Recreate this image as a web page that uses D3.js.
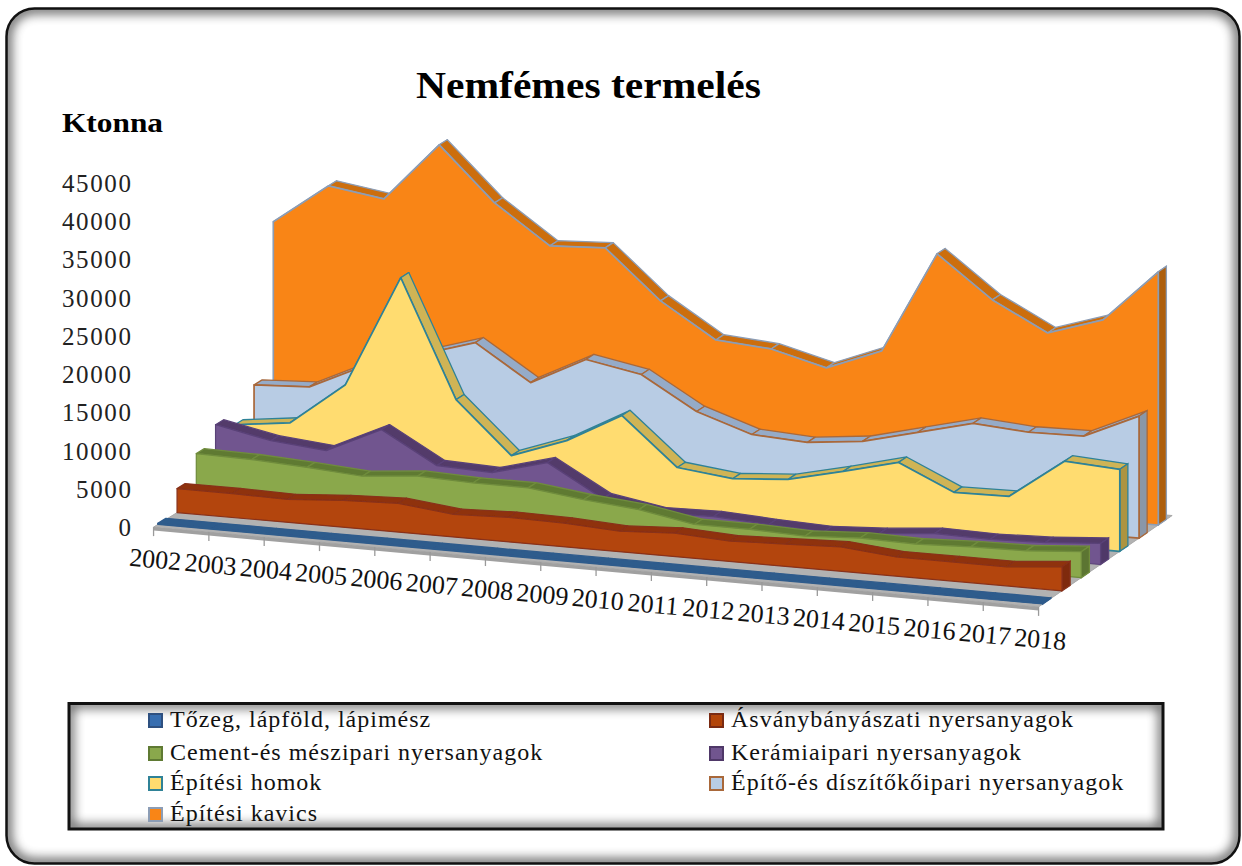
<!DOCTYPE html>
<html><head><meta charset="utf-8">
<style>html,body{margin:0;padding:0;background:#fff}svg{display:block}text{font-family:"Liberation Serif","Times New Roman",serif}</style>
<script src="https://cdn.jsdelivr.net/npm/d3@7"></script>
</head><body><svg id="c" width="1242" height="866"></svg>
<script>
const years = [2002,2003,2004,2005,2006,2007,2008,2009,2010,2011,2012,2013,2014,2015,2016,2017,2018];
const valueTicks = [0,5000,10000,15000,20000,25000,30000,35000,40000,45000];
const tozeg   = [150,150,140,130,130,120,110,110,100,90,90,90,90,90,90,90,90];
const asvany  = [3140,3130,3000,3510,3770,2970,3220,3090,2680,3070,2670,2920,3180,2510,2510,2500,3140];
const cement  = [6150,6010,5610,5080,5730,5460,5450,4530,3860,2550,2540,2270,2660,2510,2770,2880,3400];
const keramia = [8380,6900,6220,9590,5500,5200,7130,3040,1800,1930,1500,1190,1570,2190,2030,2240,2750];
const homok   = [6810,7680,13270,27880,12540,5820,8390,12280,6090,5240,5750,7410,9200,5890,5980,11180,10730];
const epito   = [10470,10810,14170,16210,18390,13760,17380,16020,11780,9370,8930,9670,11450,13230,12660,12750,15970];
const kavics  = [30240,35540,34420,42080,35080,30040,30370,24020,19500,18910,17020,19830,33120,27680,23950,26240,33120];
const names = ["Tőzeg, lápföld, lápimész","Ásványbányászati nyersanyagok","Cement-és mészipari nyersanyagok","Kerámiaipari nyersanyagok","Építési homok","Építő-és díszítőkőipari nyersanyagok","Építési kavics"];
const values = [tozeg,asvany,cement,keramia,homok,epito,kavics];
const fronts = ["#2f5b8c","#b34509","#8aa84c","#71558f","#ffdc6f","#b8cce4","#f98516"];
const tops   = ["#2f5b8c","#8f3208","#5f7a33","#523a6b","#cfb455","#95abc8","#cc6e10"];
const sides  = ["#2a5078","#7f2c0c","#5c7530","#4f3868","#ad9440","#8a97a8","#ad5e10"];
const lines  = ["#2f5b8c","#88301a","#6f8c3c","#5a4278","#2f8297","#a9683a","#8c9db5"];
const swatch = ["#376eb0","#b34509","#8aa84c","#71558f","#ffdc6f","#b8cce4","#f98516"];
const legendEdge = ["#2e5080","#7a2a12","#5f7a33","#4f3868","#2f8297","#a9683a","#8c9db5"];

const svg = d3.select("#c");
const defs = svg.append("defs");
const blur = defs.append("filter").attr("id","b").attr("x","-5%").attr("y","-5%").attr("width","110%").attr("height","110%");
blur.append("feGaussianBlur").attr("stdDeviation",6);
const soft = defs.append("filter").attr("id","s").attr("x","-2%").attr("y","-2%").attr("width","104%").attr("height","104%");
soft.append("feGaussianBlur").attr("stdDeviation",0.45);

function panel(x,y,w,h,r,id,sw,blurW){
  defs.append("clipPath").attr("id",id).append("rect").attr("x",x).attr("y",y).attr("width",w).attr("height",h).attr("rx",r);
  svg.append("rect").attr("x",x).attr("y",y).attr("width",w).attr("height",h).attr("rx",r).attr("fill","#fff");
  svg.append("g").attr("clip-path",`url(#${id})`).append("rect").attr("x",x).attr("y",y).attr("width",w).attr("height",h).attr("rx",r)
    .attr("fill","none").attr("stroke","#000").attr("stroke-width",blurW).attr("opacity",.8).attr("filter","url(#b)");
  svg.append("rect").attr("x",x).attr("y",y).attr("width",w).attr("height",h).attr("rx",r).attr("fill","none").attr("stroke","#111").attr("stroke-width",sw);
}
panel(6.5,8.5,1233,855,28,"cf",2.5,8);

// oblique projection: x along years, s along series depth, v up
const iScale = d3.scaleLinear().domain([0,years.length-1]);
const xAt = d3.scaleLinear().domain([0,6]).range([157.8,273.3]);
const baseL = d3.scaleLinear().domain([0,6]).range([524.5,453]);
const baseR = d3.scaleLinear().domain([0,6]).range([604,525]);
const xSpan = d3.scaleLinear().domain([0,years.length-1]).range([0,885]);
const h = d3.scaleLinear().domain([0,45000]).range([0,344]);
const frac = iScale.copy().range([0,1]);
function P(i,v,s){
  const t = frac(i);
  return [xAt(s)+xSpan(i), baseL(s)*(1-t)+baseR(s)*t - h(v)];
}
const lineGen = d3.line();
const D = 0.42;

// floor
const marks = svg.append("g").attr("filter","url(#s)");
const g = marks.append("g");
const sF=-0.22, sB=6.72, last=years.length-1;
g.append("path").attr("d",lineGen([P(0,0,sF),P(last,0,sF),P(last,0,sB),P(0,0,sB)])+"Z").attr("fill","#b2b2b2").attr("stroke","#a8a8a8");
g.append("path").attr("d",lineGen([P(0,0,sF),P(last,0,sF),[P(last,0,sF)[0],P(last,0,sF)[1]+3.5],[P(0,0,sF)[0],P(0,0,sF)[1]+3.5]])+"Z").attr("fill","#a0a0a0");
years.forEach((y,i)=>{
  const p=P(i,0,sF);
  g.append("line").attr("x1",p[0]).attr("x2",p[0]).attr("y1",p[1]).attr("y2",p[1]+9).attr("stroke","#9a9a9a").attr("stroke-width",1.3);
});

// series, back to front
d3.range(6,-1,-1).forEach(s=>{
  const vals=values[s], gs=marks.append("g");
  for(let i=0;i<last;i++){
    gs.append("path").attr("d",lineGen([P(i,vals[i],s),P(i+1,vals[i+1],s),P(i+1,vals[i+1],s+D),P(i,vals[i],s+D)])+"Z")
      .attr("fill",tops[s]).attr("stroke",lines[s]).attr("stroke-width",1.3).attr("stroke-linejoin","round");
  }
  gs.append("path").attr("d",lineGen([P(last,vals[last],s),P(last,0,s),P(last,0,s+D),P(last,vals[last],s+D)])+"Z")
    .attr("fill",sides[s]).attr("stroke",lines[s]).attr("stroke-width",1.3);
  const front=[P(0,0,s)].concat(vals.map((v,i)=>P(i,v,s))).concat([P(last,0,s)]);
  gs.append("path").attr("d",lineGen(front)+"Z").attr("fill",fronts[s]).attr("stroke",lines[s]).attr("stroke-width",s>=4?1.7:1.2).attr("stroke-linejoin","round");
});

// year labels
years.forEach((y,i)=>{
  const p=P(i,0,sF);
  svg.append("text").attr("transform",`translate(${p[0]+1},${p[1]+41}) rotate(5)`).attr("text-anchor","middle").attr("font-size",26).attr("fill","#111").text(y);
});

// value axis
const yAxis = d3.scaleLinear().domain([0,45000]).range([527.5,183.5]);
const ax = svg.append("g").attr("transform","translate(132.5,0)").call(d3.axisLeft(yAxis).tickValues(valueTicks).tickFormat(d3.format("d")).tickSize(0).tickPadding(0));
ax.select(".domain").remove();
ax.selectAll("text").attr("font-family","Liberation Serif").attr("font-size",25).attr("letter-spacing",1.6).attr("fill","#222");

svg.append("text").attr("x",416).attr("y",98).attr("font-size",38).attr("font-weight","bold").attr("fill","#000").attr("textLength",345).attr("lengthAdjust","spacingAndGlyphs").text("Nemfémes termelés");
svg.append("text").attr("x",62).attr("y",132).attr("font-size",28).attr("font-weight","bold").attr("fill","#000").attr("textLength",101).attr("lengthAdjust","spacingAndGlyphs").text("Ktonna");

// legend
panel(69,703.5,1094,125.5,0,"lf",3,7);
const legendCols=[149,710], legendRows=[720,753,783,814], textDx=21;
const order=[[0,0,0],[1,1,0],[2,0,1],[3,1,1],[4,0,2],[5,1,2],[6,0,3]];
order.forEach(([k,c,r])=>{
  const x=legendCols[c], y=legendRows[r];
  svg.append("rect").attr("x",x).attr("y",y-6).attr("width",13).attr("height",13).attr("fill",swatch[k]).attr("stroke",legendEdge[k]).attr("stroke-width",2);
  svg.append("text").attr("x",x+textDx).attr("y",y+7).attr("font-size",24).attr("letter-spacing",1).attr("fill","#111").text(names[k]);
});
</script></body></html>
